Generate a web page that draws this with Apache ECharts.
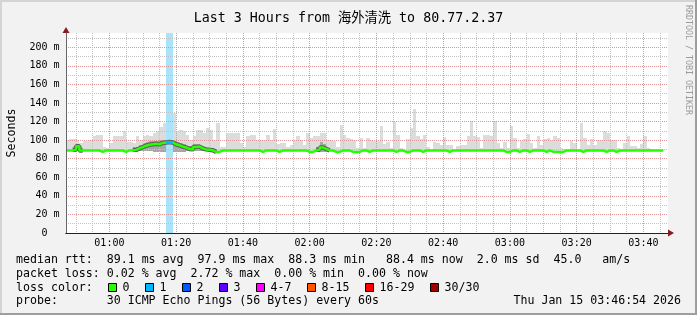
<!DOCTYPE html>
<html><head><meta charset="utf-8">
<script src="https://cdn.jsdelivr.net/npm/echarts@6/dist/echarts.min.js"></script>
<style>html,body{margin:0;padding:0;background:#f2f2f2}#c{width:697px;height:315px}</style>
</head><body><div id="c"></div><script>
// ---- data (minutes since 00:00; one sample per minute) ----
const startMinute = 47;
const medianMs = [
88.9,88.9,89.5,93.5,88.9,88.9,88.9,88.9,88.9,88.9, 87.3,88.9,88.9,88.9,88.9,88.9,88.9,87.3,88.9,88.9,
89.5,91,92.5,94,95,95.5,96,95.5,97,97.5, 97.9,97.5,95.5,94.5,93,92,90.5,90,92.5,93,
91,90,89.5,89,87.3,87.3,88.9,88.9,88.9,88.9, 88.9,88.9,88.9,88.9,88.9,88.9,88.9,88.9,87.3,88.9,
88.9,88.9,88.9,87.3,88.9,88.9,88.9,88.9,88.9,88.9, 88.9,88.9,87.3,87.3,88.9,89.5,92,90.5,88.9,88.9,
87.3,87.3,88.9,88.9,88.9,87.3,87.3,87.3,88.9,88.9, 87.3,88.9,88.9,88.9,88.9,88.9,88.9,88.9,87.3,88.9,
88.9,87.3,87.3,88.9,88.9,88.9,87.3,88.9,88.9,88.9, 88.9,88.9,88.9,88.9,87.3,88.9,88.9,88.9,88.9,88.9,
88.9,88.9,88.9,88.9,88.9,88.9,88.9,88.9,88.9,88.9, 88.9,87.3,87.3,88.9,88.9,87.3,88.9,88.9,87.3,88.9,
88.9,88.9,88.9,87.3,88.9,87.3,87.3,87.3,87.3,88.9, 88.9,88.9,88.9,88.9,87.3,88.9,88.9,88.9,88.9,88.9,
88.9,87.3,88.9,88.9,87.3,88.9,88.9,88.9,88.9,88.9, 88.9,88.9,88.9,88.9,88.9,88.9,88.9,88.9,88.9
];
const maxPingMs = [
100,101,101,100,97,99,99,100.5,104,106, 106,93,91.5,97,104,104,104,109.5,97.6,97.6,
97,104,100.5,104,106,104,107.7,109.5,114,118.5, 113,113,129,109.5,111,109.5,106,100.5,104,111,
111,107.7,113,111,100.5,118.5,93,93,107.7,107.7, 107.7,107.7,97,93,104,106,106,100.5,100.5,100.5,
106,100,112,96,97,97,93,95,100.5,104, 100.5,95,107.7,102.3,104,104,107.7,107.7,100.5,100.5,
98.7,93,116,106,102.3,101,100.5,92,102.3,91.5, 102.3,99.8,98.7,98.7,114.9,95.8,97.6,91.5,119.2,106,
91.5,89.7,101.3,113.1,133.9,104.8,101.3,106,92.6,89.7, 97.6,96.9,95.1,103.4,95.1,95.1,89.7,94,95.1,95.1,
104.8,121,104.1,103.4,91.5,105.2,106,104.8,120.3,96.9, 91.5,97.6,91.5,115.6,102.3,91.5,98.7,101.3,107,96.9,
91.5,104.8,95.1,101.3,102.3,100.5,104.1,102.3,91.5,90.4, 89.7,98.7,96.9,89.7,118.5,102.3,95.1,101.3,95.1,100.5,
100.5,109.5,107.7,100.5,100.5,91.5,89.7,96.9,104.8,93.3, 93.3,91.5,96.2,104.8,91.5,90.4,89.7,89.7,89.7
];
const smokeIdx    = [2,3,4, 20,21,22,23,24,25,26,27,28,29,30,31,32,33,34,35,36,37,38,39,40,41,42,43,44, 75,76,77,78];
const smokeLowMs  = [88,88,88, 88.5,88.5,88.3,88,88,87.8,87.5,87.5,87.5,87.5,87.5,87.5,87.5,87.5,87.5,87.5,87.8,88,88,88,88,88,88.2,88.3,88.3, 88,87.5,87.5,88];
const smokeHighMs = [90,96,90, 91,93,95,97,98,98.5,99,99,100,100.5,101,100.5,99,98,97,95.5,94,93.5,95.5,96,94,92.5,91.5,91,90.5, 93,98,96,92];
const lossIdx = [30, 31];
const tickMinutes = [60, 80, 100, 120, 140, 160, 180, 200, 220];
const tickLabels = ['01:00','01:20','01:40','02:00','02:20','02:40','03:00','03:20','03:40'];
const yTickValues = [0, 20, 40, 60, 80, 100, 120, 140, 160, 180, 200];
const yTickLabels = ['0  ','20 m','40 m','60 m','80 m','100 m','120 m','140 m','160 m','180 m','200 m'];
const lossColorLabels = ['0','1','2','3','4-7','8-15','16-29','30/30'];
const lossColors = ['#26ff00','#00b8ff','#0059ff','#5e00ff','#ff00ff','#ff5500','#ff0000','#a10000'];
const statLines = [
  'median rtt:  89.1 ms avg  97.9 ms max  88.3 ms min   88.4 ms now  2.0 ms sd  45.0   am/s',
  'packet loss: 0.02 % avg  2.72 % max  0.00 % min  0.00 % now',
  'loss color:',
  'probe:       30 ICMP Echo Pings (56 Bytes) every 60s'
];
const probeDate = 'Thu Jan 15 03:46:54 2026';
const titleText = 'Last 3 Hours from 海外清洗 to 80.77.2.37';

// ---- layout / style ----
const MONO = "'DejaVu Sans Mono', 'Noto Sans CJK SC', monospace";
const GRID_L = 66, GRID_T = 33, GRID_W = 602, GRID_H = 200;
const X_MIN = 47, X_MAX = 227.37, Y_MAX = 215.3;
const PX_PER_MIN = GRID_W / (X_MAX - X_MIN);
const MINOR = '#c2c2c2', MAJOR = '#e09494';

// series data built from arrays
const smokeLight = maxPingMs.map((m, i) => [startMinute + i, medianMs[i], m]);
const smokeDark = smokeIdx.map((idx, k) => [startMinute + idx, smokeLowMs[k], smokeHighMs[k]]);
const medianLine = medianMs.map((v, i) => [startMinute + i, v]);
medianLine.push([startMinute + medianMs.length, medianMs[medianMs.length - 1]]);
const haloLine = [];
smokeIdx.forEach((idx, k) => {
  haloLine.push([startMinute + idx, medianMs[idx]]);
  if (smokeIdx[k + 1] !== idx + 1) {
    haloLine.push([startMinute + idx + 1, medianMs[idx]]);
    haloLine.push([startMinute + idx + 1, '-']);
  }
});
const lossBars = lossIdx.map(i => [startMinute + i, 0]);
const lossMedian = lossIdx.map(i => [startMinute + i, medianMs[i]]);

function bandRenderer(fill) {
  return function (params, api) {
    const t = api.value(0), lo = api.value(1), hi = api.value(2);
    const p0 = api.coord([t, hi]), p1 = api.coord([t + 1, lo]);
    const x0 = Math.round(p0[0]), x1 = Math.round(p1[0]);
    const y0 = Math.round(p0[1]), y1 = Math.round(p1[1]);
    return { type: 'rect', shape: { x: x0, y: y0, width: x1 - x0, height: Math.max(0, y1 - y0) }, style: { fill: fill } };
  };
}
function lossBarRenderer(params, api) {
  const t = api.value(0);
  const x0 = Math.round(api.coord([t, 0])[0]), x1 = Math.round(api.coord([t + 1, 0])[0]);
  const cs = params.coordSys;
  return { type: 'rect', shape: { x: x0, y: cs.y, width: x1 - x0, height: cs.height }, style: { fill: '#aae4fa' } };
}
function lossLineRenderer(params, api) {
  const t = api.value(0), v = api.value(1);
  const a = api.coord([t, v]), b = api.coord([t + 1, v]);
  return { type: 'line', shape: { x1: a[0], y1: a[1], x2: b[0], y2: b[1] }, style: { stroke: lossColors[1], lineWidth: 2.5 } };
}

// legend graphics
const txt = (x, y, text, extra) => Object.assign({
  type: 'text', x: x, y: y, silent: true, z: 100,
  style: { text: text, fontFamily: MONO, fontSize: 11.6, fill: '#000',
    align: 'left', verticalAlign: 'middle', textAlign: 'left', textVerticalAlign: 'middle' }
}, extra || {});
const graphics = [];
const lineY = [259.5, 273.5, 287.5, 301.3];
statLines.forEach((s, i) => graphics.push(txt(16, lineY[i], s)));
const dateEl = txt(681, lineY[3], probeDate);
dateEl.style.align = 'right'; dateEl.style.textAlign = 'right';
graphics.push(dateEl);
let bx = 108;
lossColorLabels.forEach((lab, i) => {
  graphics.push({ type: 'rect', silent: true, z: 100, shape: { x: bx + 0.5, y: 283.5, width: 8, height: 8 },
    style: { fill: lossColors[i], stroke: '#000', lineWidth: 1 } });
  graphics.push(txt(bx + 14.5, lineY[2], lab));
  bx += 37 + 7 * (lab.length - 1);
});
const seconds = txt(11.5, 133, 'Seconds', { rotation: Math.PI / 2 });
seconds.style.align = 'center'; seconds.style.textAlign = 'center';
graphics.push(seconds);
const wm = txt(688.5, 5, 'RRDTOOL / TOBI OETIKER', { rotation: -Math.PI / 2 });
wm.style.fontSize = 8.3; wm.style.fill = '#9a9a9a';
graphics.push(wm);
// frame shading
graphics.push({ type: 'rect', silent: true, z: 101, shape: { x: 0, y: 0, width: 697, height: 2 }, style: { fill: '#d4d4d4' } });
graphics.push({ type: 'rect', silent: true, z: 101, shape: { x: 0, y: 0, width: 2, height: 315 }, style: { fill: '#d4d4d4' } });
graphics.push({ type: 'rect', silent: true, z: 102, shape: { x: 695, y: 0, width: 2, height: 315 }, style: { fill: '#9e9e9e' } });
graphics.push({ type: 'rect', silent: true, z: 102, shape: { x: 0, y: 313, width: 697, height: 2 }, style: { fill: '#9e9e9e' } });

const gridMinor = { left: GRID_L + (50 - X_MIN) * PX_PER_MIN, top: GRID_T, height: GRID_H,
  width: (225 - 50) * PX_PER_MIN };

const chart = echarts.init(document.getElementById('c'), null, { renderer: 'canvas' });
chart.setOption({
  animation: false,
  backgroundColor: '#f2f2f2',
  title: { text: titleText, left: 'center', top: 7,
    textStyle: { fontFamily: MONO, fontSize: 13.3, fontWeight: 'normal', color: '#000' } },
  grid: [
    { left: GRID_L, top: GRID_T, width: GRID_W, height: GRID_H, show: true, backgroundColor: '#fff', borderWidth: 0, containLabel: false },
    Object.assign({ show: false, containLabel: false }, gridMinor)
  ],
  xAxis: [
    { gridIndex: 0, type: 'value', min: X_MIN, max: X_MAX, position: 'bottom', z: 8,
      axisLine: { show: true, onZero: false, symbol: ['none', 'triangle'], symbolSize: [7, 6], symbolOffset: [0, 3],
        lineStyle: { color: '#8b1a1a', width: 1 } },
      axisTick: { show: false }, axisLabel: { show: false }, splitLine: { show: false } },
    { gridIndex: 0, type: 'value', min: X_MIN, max: X_MAX, position: 'bottom', z: 9,
      axisLine: { show: true, onZero: false, lineStyle: { color: '#222', width: 1 } },
      axisTick: { show: false }, axisLabel: { show: false }, splitLine: { show: false } },
    { gridIndex: 1, type: 'value', min: 50, max: 225, interval: 5, position: 'bottom', z: 5,
      axisLine: { show: false }, axisTick: { show: false },
      axisLabel: { show: true, margin: 5, fontFamily: MONO, fontSize: 10, color: '#000',
        formatter: v => { const i = tickMinutes.indexOf(Math.round(v)); return i >= 0 ? tickLabels[i] : ''; } },
      splitLine: { show: true, lineStyle: { color: [MINOR, MINOR, MAJOR, MINOR], type: [1, 1], width: 1 } } }
  ],
  yAxis: [
    { gridIndex: 0, type: 'value', min: 0, max: Y_MAX, position: 'left', z: 8,
      axisLine: { show: true, onZero: false, symbol: ['none', 'triangle'], symbolSize: [7, 6], symbolOffset: [0, 3],
        lineStyle: { color: '#8b1a1a', width: 1 } },
      axisTick: { show: false }, axisLabel: { show: false }, splitLine: { show: false } },
    { gridIndex: 0, type: 'value', min: 0, max: Y_MAX, interval: 10, position: 'left', z: 5,
      axisLine: { show: false }, axisTick: { show: false },
      axisLabel: { show: true, margin: 6.5, fontFamily: MONO, fontSize: 10, color: '#000',
        formatter: v => { const i = yTickValues.indexOf(Math.round(v * 10) / 10); return i >= 0 ? yTickLabels[i] : ''; } },
      splitLine: { show: true, showMaxLine: false, lineStyle: { color: [MAJOR, MINOR], type: [1, 1], width: 1 } } },
    { gridIndex: 0, type: 'value', min: 0, max: Y_MAX, position: 'left', z: 9,
      axisLine: { show: true, onZero: false, lineStyle: { color: '#666', width: 1 } },
      axisTick: { show: false }, axisLabel: { show: false }, splitLine: { show: false } },
    { gridIndex: 1, type: 'value', min: 0, max: 1, show: false }
  ],
  series: [
    { type: 'custom', name: 'smoke', xAxisIndex: 0, yAxisIndex: 0, z: 2, silent: true,
      renderItem: bandRenderer('#dcdcdc'), encode: { x: 0, y: [1, 2] }, data: smokeLight },
    { type: 'custom', name: 'smoke dark', xAxisIndex: 0, yAxisIndex: 0, z: 3, silent: true,
      renderItem: bandRenderer('#a6a6a6'), encode: { x: 0, y: [1, 2] }, data: smokeDark },
    { type: 'custom', name: 'loss bar', xAxisIndex: 0, yAxisIndex: 0, z: 4, silent: true,
      renderItem: lossBarRenderer, encode: { x: 0, y: 1 }, data: lossBars },
    { type: 'line', name: 'halo', xAxisIndex: 0, yAxisIndex: 0, z: 6, silent: true, step: 'end',
      showSymbol: false, symbol: 'none', connectNulls: false,
      lineStyle: { color: '#5e5e5e', width: 4.5 }, data: haloLine },
    { type: 'line', name: 'median rtt', xAxisIndex: 0, yAxisIndex: 0, z: 7, silent: true, step: 'end',
      showSymbol: false, symbol: 'none',
      lineStyle: { color: lossColors[0], width: 2.5 }, data: medianLine },
    { type: 'custom', name: 'loss median', xAxisIndex: 0, yAxisIndex: 0, z: 8, silent: true,
      renderItem: lossLineRenderer, encode: { x: 0, y: 1 }, data: lossMedian }
  ],
  graphic: { elements: graphics }
});
</script></body></html>
